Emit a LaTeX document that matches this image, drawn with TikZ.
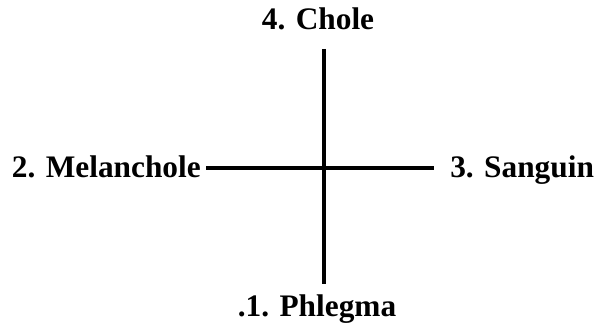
\documentclass[tikz,border=0pt]{standalone}
\usepackage{fontspec}
\setmainfont{Liberation Serif}
\usepackage{tikz}

\tikzset{
    humeur/.style={font=\fontsize{23.5}{28}\selectfont\bfseries, inner sep=0pt},
    axe/.style={line width=2.4pt}
}

\begin{document}
\begin{tikzpicture}[x=0.75pt, y=-0.75pt]
    \useasboundingbox (0,0) rectangle (598,335);

    % Les quatre humeurs
    \node[humeur, anchor=base] (chole) at (318,30) {4. Chole};
    \node[humeur, anchor=base] (phlegma) at (317,316) {.1. Phlegma};
    \node[humeur, anchor=base east] (melan) at (201,177) {2. Melanchole};
    \node[humeur, anchor=base west] (sanguin) at (450,177) {3. Sanguin};

    % Extrémités des axes
    \coordinate (haut) at (324,49);
    \coordinate (bas) at (324,284);
    \coordinate (gauche) at (206,168);
    \coordinate (droite) at (434,168);

    % Croix
    \draw[axe] (haut) -- (bas);
    \draw[axe] (gauche) -- (droite);
\end{tikzpicture}
\end{document}
